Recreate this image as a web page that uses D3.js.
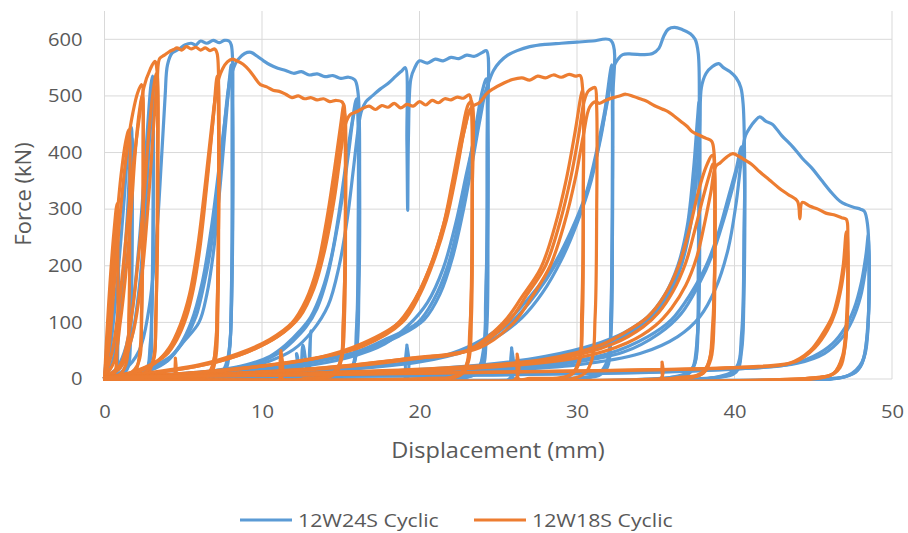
<!DOCTYPE html>
<html>
<head>
<meta charset="utf-8">
<script src="https://cdn.jsdelivr.net/npm/d3@7"></script>
<style>
  body { margin: 0; background: #fff; }
  text { font-family: "Open Sans", sans-serif; fill: #595959; }
</style>
</head>
<body>
<div class="chart_area"></div>
<script>
var seriesNames = ["12W24S Cyclic", "12W18S Cyclic"];
var xTicks = [0, 10, 20, 30, 40, 50];
var yTicks = [0, 100, 200, 300, 400, 500, 600];

// 12W24S cyclic, one array of [displacement mm, force kN] per loading cycle
var w24Cycles = [
  [[0,0],[0.15,60],[0.35,140],[0.6,210],[0.8,250],[0.9,180],[0.85,60],[0.7,10],[0.3,2],[0,0]],
  [[0,2],[0.3,40],[0.6,110],[0.9,200],[1.2,300],[1.45,390],[1.7,445],[1.75,330],[1.7,150],[1.55,40],[1.2,8],[0.5,2],[0,0]],
  [[0,2],[0.5,30],[0.9,100],[1.2,190],[1.45,290],[1.65,400],[1.75,425],[1.75,250],[1.65,90],[1.4,15],[0.6,2],[0,0]],
  [[0,2],[0.8,20],[1.4,60],[1.8,130],[2.2,240],[2.5,350],[2.75,450],[2.95,520],[3.05,535],[3.1,420],[3.05,200],[2.9,60],[2.6,12],[1.5,3],[0,0]],
  [[0,2],[1,20],[1.7,70],[2.2,160],[2.5,260],[2.75,370],[2.95,470],[3.05,505],[3.1,320],[3,110],[2.8,25],[2,4],[0,0]],
  [[0,2],[1.2,15],[2.2,50],[2.8,120],[3.3,250],[3.6,380],[3.85,500],[4,555],[4.3,576],[4.7,582],[5.1,590],[5.5,593],[5.8,590],[6.1,597],[6.5,593],[6.9,598],[7.3,594],[7.6,598],[7.9,597],[8.05,590],[8.15,480],[8.15,300],[8.05,120],[7.85,35],[7.4,8],[6,2],[3,0],[0,0]],
  [[0,3],[2,10],[3,20],[4,32],[5,65],[6,100],[6.5,150],[6.9,220],[7.2,300],[7.5,390],[7.75,470],[7.95,535],[8.05,555],[8.12,420],[8.1,200],[7.95,60],[7.6,12],[6.5,3],[0,0]],
  [[0,3],[2,12],[3.2,25],[4.2,40],[5.2,75],[5.8,110],[6.3,165],[6.8,240],[7.2,330],[7.55,430],[7.85,510],[8.05,540],[8.1,380],[8.05,150],[7.85,40],[7.3,8],[5.5,2],[0,0]],
  [[0,3],[2.5,12],[3.8,28],[4.8,60],[5.5,100],[6.2,170],[6.8,270],[7.3,380],[7.7,470],[8,530],[8.2,550],[8.5,565],[8.9,575],[9.3,577],[9.7,570],[10.1,562],[10.5,555],[11,549],[11.5,545],[12,540],[12.5,543],[13,537],[13.5,539],[14,534],[14.5,536],[15,531],[15.5,533],[15.9,528],[16.1,505],[16.2,350],[16.15,150],[16,50],[15.6,12],[14.5,3],[13.2,0],[13.1,85],[12.95,2],[12.6,60],[12.45,2],[12.2,45],[12.05,0],[0,0]],
  [[0,2],[4,8],[7,15],[9,25],[10.5,40],[11.5,60],[12.4,85],[13.1,110],[13.8,155],[14.4,215],[14.9,295],[15.3,375],[15.7,450],[16,495],[16.1,450],[16.1,250],[16,90],[15.7,20],[14.8,4],[0,0]],
  [[0,2],[4.5,8],[7.5,16],[9.5,27],[11,45],[12,68],[12.8,92],[13.5,125],[14.1,175],[14.6,240],[15.1,320],[15.5,400],[15.85,470],[16.05,485],[16.15,300],[16.05,110],[15.8,25],[15,4],[0,0]],
  [[0,2],[5,9],[8.5,18],[10.5,32],[12,52],[13.2,85],[14.2,130],[14.9,200],[15.4,280],[15.8,370],[16.1,440],[16.3,472],[16.6,490],[17,500],[17.5,512],[18,522],[18.5,535],[18.9,545],[19.1,550],[19.2,420],[19.25,298],[19.3,430],[19.45,530],[19.7,550],[20,562],[20.5,558],[21,565],[21.5,562],[22,568],[22.5,566],[23,572],[23.5,570],[24,577],[24.25,580],[24.35,470],[24.35,250],[24.25,80],[23.9,15],[22.8,3],[19.3,0],[19.2,60],[19.05,0],[0,0]],
  [[0,2],[6,8],[10,18],[13,30],[16,48],[18,72],[19.9,100],[20.9,140],[21.8,200],[22.5,280],[23.1,370],[23.6,450],[24,510],[24.25,530],[24.3,400],[24.25,180],[24.05,50],[23.6,10],[22,2],[0,0]],
  [[0,2],[6.5,8],[10.5,18],[13.5,31],[16.5,50],[18.7,76],[20.3,105],[21.3,150],[22.1,215],[22.8,300],[23.4,390],[23.85,460],[24.2,505],[24.3,350],[24.2,140],[24,35],[23.3,6],[21,1],[0,0]],
  [[0,2],[7,9],[12,20],[15.5,38],[17.8,62],[19.3,95],[20.5,135],[21.5,195],[22.3,275],[23,365],[23.6,440],[24.1,500],[24.4,525],[24.7,545],[25.1,560],[25.6,572],[26.2,580],[27,587],[28,591],[29,593],[30,595],[31,597],[32.15,598],[32.25,480],[32.25,250],[32.15,80],[31.8,15],[30.5,3],[26,0],[25.85,55],[25.7,0],[0,0]],
  [[0,2],[8,8],[14,15],[19,28],[22,45],[24,70],[25.5,100],[27,145],[28.4,196],[29.6,260],[30.6,330],[31.3,410],[31.8,480],[32.1,540],[32.2,555],[32.25,400],[32.2,180],[32.05,50],[31.6,10],[30,2],[0,0]],
  [[0,2],[8.5,8],[14.5,16],[19.5,30],[22.5,48],[24.5,74],[26,105],[27.4,150],[28.7,205],[29.9,272],[30.8,345],[31.5,425],[31.95,500],[32.2,540],[32.25,350],[32.15,120],[31.9,30],[31,5],[0,0]],
  [[0,2],[9,8],[15,16],[20,30],[23,50],[25,76],[26.5,108],[27.8,152],[29,210],[30,275],[30.9,350],[31.5,430],[32,500],[32.3,549],[32.6,565],[32.9,573],[33.5,574],[34.2,573],[34.8,575],[35.2,584],[35.5,605],[35.8,618],[36.2,621],[36.7,617],[37.2,610],[37.5,600],[37.7,575],[37.75,420],[37.7,200],[37.6,60],[37.2,12],[36,3],[0,0]],
  [[0,2],[10,7],[18,14],[24,25],[28,40],[31,60],[33,82],[34.5,110],[35.6,150],[36.4,200],[37,270],[37.4,370],[37.65,460],[37.75,490],[37.8,300],[37.7,100],[37.45,25],[36.8,5],[0,0]],
  [[0,2],[11,7],[19,14],[25,26],[29,42],[31.8,63],[33.6,88],[35,120],[36,165],[36.8,230],[37.3,320],[37.6,420],[37.75,470],[37.75,260],[37.65,80],[37.3,18],[36,3],[0,0]],
  [[0,2],[12,7],[20,14],[26,27],[30,45],[32.5,68],[34.2,95],[35.5,135],[36.5,190],[37.2,270],[37.6,360],[37.8,450],[37.9,515],[38.2,540],[38.6,552],[39,557],[39.3,550],[39.7,543],[40.1,532],[40.4,515],[40.55,485],[40.65,350],[40.6,150],[40.45,50],[40.1,12],[38.5,2],[0,0]],
  [[0,2],[12,7],[21,13],[28,25],[32,45],[34.5,75],[36,105],[37.2,150],[38.2,200],[39,260],[39.6,320],[40.1,370],[40.45,410],[40.6,380],[40.6,200],[40.45,60],[40.1,15],[39,3],[0,0]],
  [[0,2],[13,7],[22,13],[29,26],[33,48],[35.2,80],[36.6,115],[37.7,165],[38.6,220],[39.3,280],[39.9,340],[40.3,385],[40.55,400],[40.6,250],[40.45,80],[40.1,20],[38.8,3],[0,0]],
  [[0,2],[14,6],[23,13],[30,25],[34,45],[36.4,75],[37.8,110],[38.8,160],[39.6,230],[40.1,310],[40.45,390],[40.7,430],[41,445],[41.3,456],[41.6,463],[42,455],[42.4,450],[43,430],[43.7,410],[44.3,390],[44.9,373],[45.5,352],[46.2,328],[46.7,314],[47.1,308],[47.6,303],[48,300],[48.25,296],[48.45,272],[48.55,200],[48.5,110],[48.3,45],[47.8,15],[47,4],[45.6,0],[0,0]],
  [[0,2],[20,6],[33,11],[40,18],[43.3,25],[45,40],[46.2,62],[47,90],[47.6,125],[48.05,170],[48.35,220],[48.5,255],[48.55,180],[48.45,90],[48.1,30],[47.2,6],[45.5,0],[0,0]],
  [[0,2],[21,6],[34,11],[41,19],[44,28],[45.7,45],[46.8,72],[47.5,105],[48,145],[48.3,190],[48.5,235],[48.55,150],[48.4,70],[48,22],[47,4],[0,0]]
];

// 12W18S cyclic
var w18Cycles = [
  [[0,0],[0.15,80],[0.35,170],[0.6,260],[0.8,310],[0.85,200],[0.8,60],[0.6,8],[0,0]],
  [[0,3],[0.2,60],[0.45,160],[0.75,270],[1.05,360],[1.35,420],[1.55,440],[1.6,300],[1.55,120],[1.35,25],[0.8,4],[0,0]],
  [[0,3],[0.3,60],[0.6,160],[0.9,260],[1.2,350],[1.5,420],[1.8,470],[2.1,505],[2.35,520],[2.45,400],[2.4,180],[2.25,50],[1.9,10],[1,2],[0,0]],
  [[0,3],[0.6,30],[1,100],[1.4,200],[1.7,300],[1.95,400],[2.2,470],[2.4,500],[2.45,330],[2.35,120],[2.1,25],[1.2,3],[0,0]],
  [[0,3],[0.5,50],[1,150],[1.4,260],[1.8,370],[2.2,460],[2.5,515],[2.9,547],[3.2,561],[3.35,540],[3.4,380],[3.3,150],[3.1,35],[2.6,6],[1,1],[0,0]],
  [[0,3],[1,25],[1.6,90],[2.1,200],[2.5,320],[2.8,430],[3.1,510],[3.3,540],[3.35,350],[3.25,110],[3,25],[2,3],[0,0]],
  [[0,3],[1,20],[1.8,80],[2.4,190],[2.8,320],[3.1,440],[3.35,530],[3.5,566],[3.8,572],[4.1,578],[4.4,582],[4.6,585],[4.9,581],[5.2,587],[5.5,583],[5.8,586],[6.1,581],[6.4,585],[6.7,580],[7,583],[7.15,575],[7.25,500],[7.25,300],[7.2,120],[7.05,35],[6.7,8],[5.5,2],[4.6,0],[4.5,37],[4.4,0],[0,0]],
  [[0,3],[1.5,10],[2.5,20],[3.5,35],[4.3,60],[4.9,99],[5.4,140],[5.8,196],[6.2,280],[6.6,380],[6.9,460],[7.15,535],[7.25,420],[7.2,200],[7.05,60],[6.7,12],[5.5,2],[0,0]],
  [[0,3],[1.8,12],[2.9,24],[3.9,42],[4.6,70],[5.2,110],[5.65,160],[6.05,230],[6.45,330],[6.8,430],[7.05,500],[7.2,530],[7.25,350],[7.15,130],[6.95,35],[6.4,6],[0,0]],
  [[0,3],[2,12],[3.2,28],[4.1,55],[4.8,95],[5.4,150],[5.9,230],[6.3,320],[6.7,420],[7,490],[7.25,530],[7.5,548],[7.8,560],[8.1,565],[8.4,562],[8.8,556],[9.2,545],[9.6,530],[9.9,520],[10.3,516],[10.7,510],[11.1,508],[11.5,503],[11.9,497],[12.3,500],[12.7,495],[13.1,497],[13.5,493],[13.9,495],[14.3,490],[14.7,492],[15.1,489],[15.25,460],[15.3,300],[15.25,120],[15.05,35],[14.6,8],[13,2],[11.3,0],[11.2,50],[11.1,0],[0,0]],
  [[0,3],[3,12],[6,25],[8.5,45],[10.5,70],[11.9,99],[12.8,140],[13.5,196],[14.1,280],[14.6,370],[15,450],[15.2,485],[15.3,330],[15.2,130],[15,35],[14.4,6],[0,0]],
  [[0,3],[3.5,12],[6.5,26],[9,47],[11,75],[12.2,105],[13.1,150],[13.8,215],[14.35,300],[14.8,390],[15.1,450],[15.25,470],[15.3,280],[15.15,100],[14.9,25],[14,4],[0,0]],
  [[0,3],[3.5,12],[6.5,26],[9,47],[11,75],[12.4,110],[13.3,160],[14,230],[14.6,320],[15,400],[15.3,450],[15.6,467],[16,472],[16.4,478],[16.8,482],[17.2,476],[17.6,483],[18,480],[18.4,487],[18.8,479],[19.2,485],[19.6,482],[20,490],[20.4,484],[20.8,492],[21.2,488],[21.6,495],[22,493],[22.4,498],[22.8,496],[23.15,502],[23.3,488],[23.35,300],[23.3,110],[23.1,30],[22.6,7],[20.5,1],[0,0]],
  [[0,3],[5,10],[9,20],[13,35],[16,55],[18.5,95],[19.7,140],[20.7,200],[21.5,270],[22.1,350],[22.65,430],[23.1,485],[23.3,490],[23.35,330],[23.25,120],[23.05,30],[22.4,5],[0,0]],
  [[0,3],[5.5,10],[9.5,21],[13.5,37],[16.4,58],[18.9,100],[20,148],[20.9,208],[21.7,280],[22.35,365],[22.85,440],[23.2,475],[23.35,290],[23.2,90],[22.9,20],[22,3],[0,0]],
  [[0,3],[5.5,10],[9.5,21],[13.5,37],[16.4,63],[18.8,102],[19.9,150],[20.8,208],[21.6,280],[22.3,365],[22.85,440],[23.3,480],[23.8,488],[24.3,505],[24.7,513],[25.3,522],[25.9,529],[26.5,532],[27,528],[27.5,535],[28,532],[28.5,537],[29,533],[29.5,538],[29.9,535],[30.2,536],[30.35,515],[30.4,300],[30.35,110],[30.15,30],[29.6,7],[27,1],[26.3,0],[26.2,44],[26.1,0],[0,0]],
  [[0,3],[8,10],[14,20],[19,35],[23,50],[25.3,99],[26.5,145],[27.7,196],[28.6,270],[29.3,350],[29.9,440],[30.25,500],[30.35,510],[30.4,320],[30.3,120],[30.1,30],[29.4,5],[0,0]],
  [[0,3],[8.5,10],[14.5,21],[19.5,37],[23.3,53],[25.6,100],[26.8,148],[28,200],[28.9,275],[29.6,355],[30.1,430],[30.45,490],[30.7,508],[31,514],[31.15,515],[31.25,480],[31.25,300],[31.15,110],[30.9,30],[30.2,5],[0,0]],
  [[0,3],[9,10],[15,21],[20,37],[23.8,55],[26,100],[27.2,148],[28.3,200],[29.2,275],[29.9,355],[30.4,430],[30.8,480],[31.2,490],[31.4,487],[31.8,492],[32.3,497],[32.7,500],[33.1,503],[33.6,499],[34,495],[34.4,491],[34.9,483],[35.4,477],[35.8,472],[36.1,466],[36.6,455],[37,446],[37.3,437],[37.8,430],[38.2,425],[38.55,420],[38.7,400],[38.75,250],[38.7,100],[38.5,35],[38,10],[36.5,3],[35.5,0],[35.4,30],[35.3,0],[0,0]],
  [[0,3],[12,10],[22,20],[28,35],[31.5,60],[33.5,90],[34.5,110],[35.5,145],[36.4,196],[37.1,260],[37.7,330],[38.2,375],[38.6,395],[38.75,330],[38.7,150],[38.5,45],[38,10],[36.5,2],[0,0]],
  [[0,3],[13,10],[23,20],[29,36],[32.3,62],[34.2,92],[35.2,118],[36.1,155],[36.9,205],[37.5,265],[38,320],[38.4,360],[38.65,380],[38.75,260],[38.6,90],[38.3,25],[37.5,5],[0,0]],
  [[0,3],[14,10],[24,20],[30,37],[33.2,64],[35,95],[36,125],[36.9,165],[37.6,215],[38.1,275],[38.5,330],[38.8,375],[39.1,382],[39.5,392],[39.9,398],[40.3,393],[40.7,386],[41.1,379],[41.6,366],[42.2,352],[42.8,338],[43.4,326],[44,314],[44.15,283],[44.3,312],[44.8,305],[45.3,300],[45.8,293],[46.3,290],[46.8,285],[47.1,282],[47.2,250],[47.2,180],[47.1,100],[46.85,40],[46.3,10],[45,2],[0,0]],
  [[0,3],[15,8],[30,14],[40,20],[43.5,28],[44.8,50],[45.6,80],[46.2,110],[46.6,150],[46.9,200],[47.1,260],[47.2,200],[47.15,100],[46.9,40],[46.3,10],[45,2],[0,0]],
  [[0,3],[16,9],[31,15],[40.5,21],[43.9,31],[45.1,55],[45.9,86],[46.4,118],[46.8,165],[47.05,215],[47.15,240],[47.2,160],[47.05,70],[46.7,20],[45.8,4],[0,0]]
];

var colors = ["#5B9BD5", "#ED7D31"];

var svg = d3.select(".chart_area")
    .append("svg")
    .attr("width", 908)
    .attr("height", 533);

var x = d3.scaleLinear().domain([0, 50]).range([104.5, 892]);
var y = d3.scaleLinear().domain([0, 650]).range([379, 11]);

// gridlines
svg.append("g")
    .selectAll("line")
    .data(yTicks)
    .enter()
    .append("line")
    .attr("x1", x(0)).attr("x2", x(50))
    .attr("y1", function(d){ return y(d) }).attr("y2", function(d){ return y(d) })
    .style("stroke", "#d9d9d9");

svg.append("g")
    .selectAll("line")
    .data(xTicks)
    .enter()
    .append("line")
    .attr("x1", function(d){ return x(d) }).attr("x2", function(d){ return x(d) })
    .attr("y1", y(650)).attr("y2", y(0))
    .style("stroke", "#d9d9d9");

// axes (labels only)
var xAxis = svg.append("g")
    .attr("transform", "translate(0," + y(0) + ")")
    .call(d3.axisBottom(x).tickValues(xTicks).tickSize(0).tickPadding(26));
var yAxis = svg.append("g")
    .attr("transform", "translate(" + x(0) + ",0)")
    .call(d3.axisLeft(y).tickValues(yTicks).tickSize(0).tickPadding(22));
[xAxis, yAxis].forEach(function(a){
    a.select(".domain").remove();
    a.selectAll("text")
        .style("font-family", "'Open Sans', sans-serif")
        .style("font-size", "18px")
        .style("fill", "#595959");
});

svg.append("clipPath").attr("id", "plotclip")
    .append("rect")
    .attr("x", x(0) - 2).attr("y", y(650))
    .attr("width", x(50) - x(0) + 4).attr("height", y(0) - y(650) + 2);

var line = d3.line()
    .x(function(d){ return x(d[0]) })
    .y(function(d){ return y(d[1]) })
    .curve(d3.curveCatmullRom.alpha(0.5));

[w24Cycles, w18Cycles].forEach(function(cycles, i){
    svg.append("g")
        .attr("clip-path", "url(#plotclip)")
        .selectAll("path")
        .data(cycles)
        .enter()
        .append("path")
        .attr("d", line)
        .attr("fill", "none")
        .style("stroke", colors[i])
        .style("stroke-width", 3.2)
        .style("stroke-linejoin", "round")
        .style("stroke-linecap", "round");
});

// axis titles
svg.append("text")
    .attr("class", "wide")
    .attr("x", 498).attr("y", 458)
    .attr("text-anchor", "middle")
    .style("font-size", "21px")
    .text("Displacement (mm)");

svg.append("text")
    .attr("transform", "translate(31,194) rotate(-90)")
    .attr("text-anchor", "middle")
    .style("font-size", "22px")
    .text("Force (kN)");

// legend
var legendX = [240, 474];
var legend = svg.append("g")
    .selectAll("g")
    .data(seriesNames)
    .enter()
    .append("g")
    .attr("transform", function(d, i){ return "translate(" + legendX[i] + ",520)" });
legend.append("line")
    .attr("x1", 0).attr("x2", 52)
    .style("stroke", function(d, i){ return colors[i] })
    .style("stroke-width", 3);
legend.append("text")
    .attr("class", "wide")
    .attr("x", 58).attr("y", 7)
    .style("font-size", "19px")
    .text(function(d){ return d });

// the reference text is a little wider than Open Sans, stretch it
xAxis.selectAll("text").attr("class", "wide");
yAxis.selectAll("text").attr("class", "wide");
svg.selectAll("text.wide").each(function(){
    var w = this.getComputedTextLength();
    d3.select(this).attr("textLength", w * 1.12).attr("lengthAdjust", "spacingAndGlyphs");
});
</script>
</body>
</html>
